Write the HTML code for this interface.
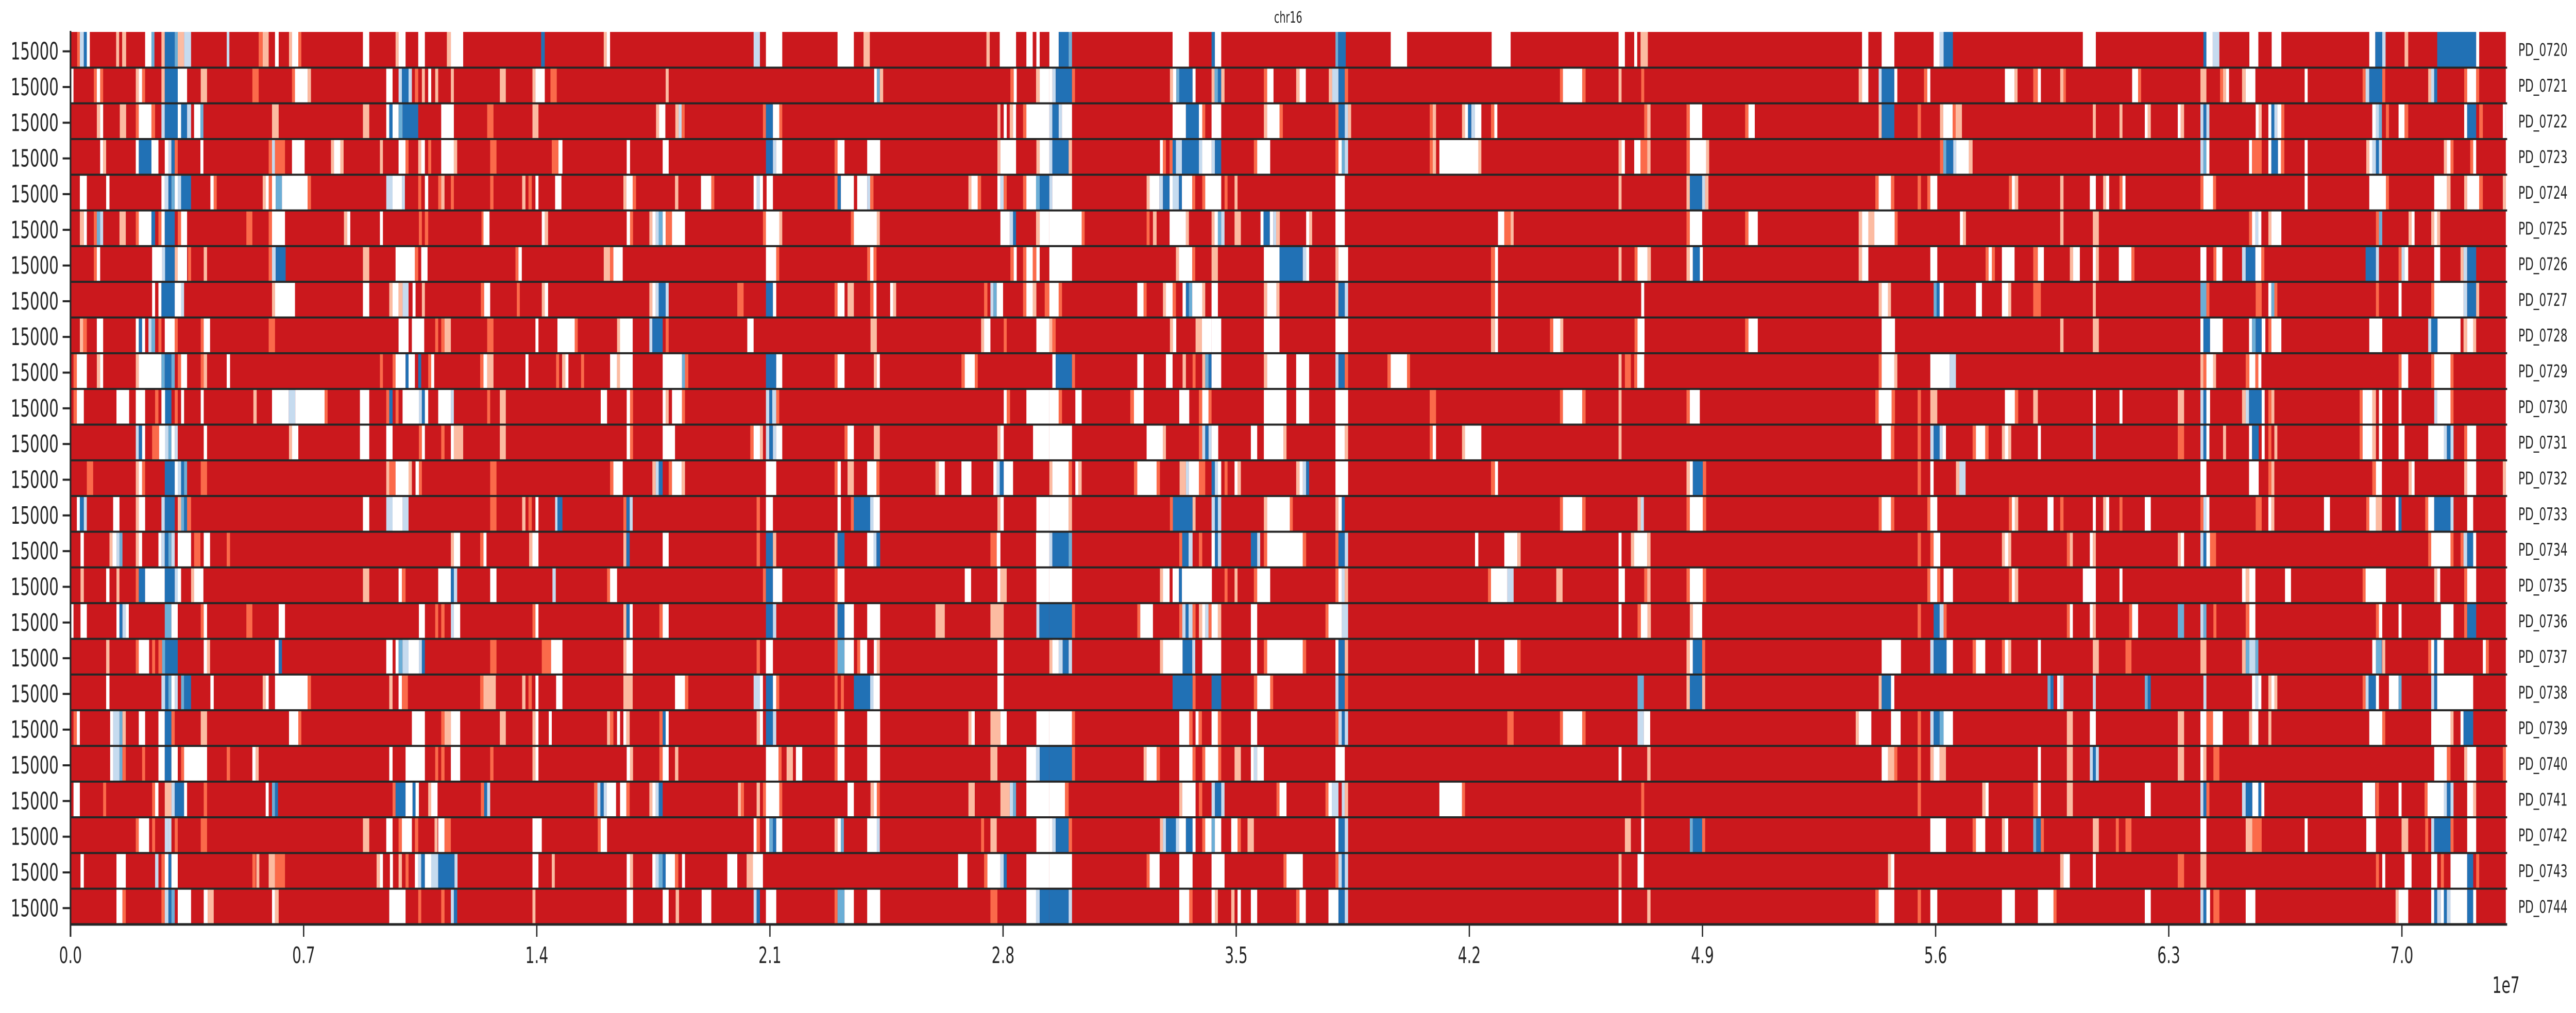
<!DOCTYPE html>
<html><head><meta charset="utf-8"><title>chr16</title>
<style>
html,body{margin:0;padding:0;background:#fff;overflow:hidden;width:100%;height:100%;}
svg{display:block;width:100vw;height:100vh;font-family:"DejaVu Sans","Liberation Sans",sans-serif;}
</style></head>
<body>
<svg id="chart" viewBox="0 0 7855 1967" preserveAspectRatio="none" xmlns="http://www.w3.org/2000/svg">
<text x="3928" y="44" font-size="30" text-anchor="middle" fill="#262626">chr16</text>
<g id="cells"></g>
<g id="grid"></g>
<g id="yaxis"></g>
<g id="xaxis"></g>
<g id="rlabels"></g>
<text x="7600" y="1928" font-size="44" fill="#262626">1e7</text>
</svg>
<script>
const sampleLabels=["PD_0720","PD_0721","PD_0722","PD_0723","PD_0724","PD_0725","PD_0726","PD_0727","PD_0728","PD_0729","PD_0730","PD_0731","PD_0732","PD_0733","PD_0734","PD_0735","PD_0736","PD_0737","PD_0738","PD_0739","PD_0740","PD_0741","PD_0742","PD_0743","PD_0744"];
const yTickLabels=["15000"];
const xTickValues=[0,7,14,21,28,35,42,49,56,63,70];
const xTickLabels=["0.0","0.7","1.4","2.1","2.8","3.5","4.2","4.9","5.6","6.3","7.0"];
const chromLengthMb=73.12;
const segs=[
[[0.2,0.28,"O"],[0.28,0.4,"L"],[0.4,0.49,"B"],[0.49,0.58,"W"],[1.37,1.46,"P"],[1.55,1.67,"P"],[2.24,2.43,"W"],[2.43,2.52,"M"],[2.73,2.83,"P"],[2.83,3.13,"B"],[3.13,3.22,"M"],[3.22,3.41,"P"],[3.41,3.62,"L"],[4.69,4.77,"L"],[5.65,5.77,"O"],[5.77,5.95,"P"],[6.14,6.25,"W"],[6.56,6.65,"P"],[6.65,6.84,"W"],[6.84,6.93,"O"],[8.78,8.97,"W"],[9.76,9.85,"P"],[9.85,10.06,"W"],[10.44,10.64,"W"],[11.3,11.42,"P"],[11.42,11.79,"W"],[14.13,14.24,"B"],[16.01,16.1,"P"],[16.1,16.2,"W"],[20.51,20.7,"L"],[20.88,21.37,"W"],[23.03,23.52,"W"],[23.81,24.0,"P"],[27.5,27.6,"P"],[27.9,28.39,"W"],[28.7,28.89,"W"],[29.0,29.1,"W"],[29.39,29.67,"W"],[29.67,29.97,"B"],[29.97,30.07,"M"],[33.09,33.58,"W"],[34.26,34.36,"B"],[34.36,34.55,"W"],[37.98,38.06,"M"],[38.06,38.29,"B"],[39.64,40.13,"W"],[42.67,43.24,"W"],[46.48,46.67,"W"],[46.95,47.04,"W"],[47.14,47.36,"P"],[53.79,53.98,"W"],[54.38,54.76,"W"],[55.94,56.12,"W"],[56.12,56.24,"L"],[56.24,56.52,"B"],[60.42,60.81,"W"],[64.04,64.13,"B"],[64.13,64.32,"W"],[64.32,64.52,"L"],[65.42,65.69,"W"],[66.09,66.38,"W"],[69.02,69.2,"W"],[69.2,69.41,"B"],[69.41,69.51,"L"],[70.08,70.19,"P"],[71.06,72.23,"B"],[72.23,72.32,"W"]],
[[0,0.09,"W"],[0.7,0.79,"O"],[0.79,0.89,"W"],[0.89,0.98,"O"],[1.96,2.05,"P"],[2.05,2.15,"W"],[2.15,2.24,"O"],[2.73,2.83,"P"],[2.83,3.22,"B"],[3.22,3.5,"W"],[3.91,4.1,"P"],[5.46,5.65,"O"],[6.65,6.74,"O"],[6.74,7.12,"W"],[7.12,7.22,"P"],[9.48,9.67,"W"],[9.85,9.95,"L"],[9.95,10.15,"B"],[10.15,10.25,"L"],[10.34,10.44,"O"],[10.55,10.64,"P"],[10.74,10.83,"W"],[10.95,11.04,"P"],[11.42,11.51,"P"],[12.89,13.07,"P"],[13.87,13.96,"P"],[13.96,14.24,"W"],[14.41,14.6,"O"],[17.87,17.96,"P"],[24.13,24.21,"W"],[24.21,24.3,"M"],[24.3,24.4,"P"],[28.22,28.32,"O"],[28.32,28.41,"W"],[28.99,29.1,"P"],[29.1,29.39,"W"],[29.39,29.48,"W"],[29.48,29.58,"L"],[29.58,30.07,"B"],[30.07,30.16,"O"],[33.01,33.1,"P"],[33.1,33.2,"W"],[33.2,33.29,"M"],[33.29,33.69,"B"],[33.69,33.78,"W"],[34.26,34.35,"P"],[34.35,34.45,"M"],[34.45,34.55,"B"],[34.55,34.65,"P"],[35.83,35.93,"O"],[35.93,36.12,"W"],[36.8,36.9,"P"],[36.9,37.09,"W"],[37.78,37.88,"P"],[37.88,38.07,"L"],[38.07,38.26,"B"],[38.26,38.36,"O"],[44.72,44.81,"O"],[44.81,45.39,"W"],[45.39,45.49,"O"],[46.48,46.57,"P"],[47.16,47.25,"O"],[53.69,53.79,"P"],[53.79,53.98,"W"],[54.29,54.38,"L"],[54.38,54.76,"B"],[54.76,54.85,"W"],[55.65,55.75,"O"],[55.75,55.84,"W"],[58.08,58.37,"W"],[58.37,58.46,"P"],[58.93,59.07,"O"],[59.07,59.16,"W"],[59.74,59.84,"P"],[59.84,59.91,"O"],[61.9,62.08,"W"],[62.08,62.17,"O"],[63.95,64.13,"P"],[64.54,64.63,"O"],[64.63,64.72,"P"],[64.72,64.81,"W"],[65.2,65.31,"P"],[65.31,65.6,"W"],[67.08,67.17,"W"],[68.82,68.91,"O"],[68.91,69.02,"L"],[69.02,69.41,"B"],[69.41,69.5,"O"],[70.79,70.88,"P"],[70.88,70.97,"L"],[70.97,71.06,"B"],[71.87,71.96,"O"],[71.96,72.23,"W"],[72.23,72.32,"O"]],
[[0.79,0.89,"P"],[0.89,0.98,"W"],[1.48,1.67,"P"],[1.96,2.05,"O"],[2.05,2.43,"W"],[2.43,2.54,"O"],[2.73,2.83,"L"],[2.83,3.22,"B"],[3.22,3.32,"W"],[3.32,3.5,"B"],[3.5,3.62,"L"],[3.71,3.9,"W"],[3.9,3.99,"M"],[6.05,6.25,"P"],[8.78,8.97,"P"],[9.48,9.57,"W"],[9.57,9.67,"B"],[9.67,9.85,"W"],[9.85,9.97,"M"],[9.97,10.44,"B"],[11.13,11.51,"W"],[12.51,12.7,"O"],[13.87,14.05,"P"],[17.58,17.67,"P"],[17.67,17.86,"W"],[18.16,18.26,"P"],[18.26,18.35,"L"],[18.35,18.44,"O"],[20.79,20.88,"O"],[20.88,21.09,"B"],[21.09,21.28,"W"],[21.28,21.37,"O"],[27.83,27.92,"P"],[28.02,28.11,"W"],[28.2,28.3,"P"],[28.3,28.39,"W"],[28.6,28.7,"O"],[28.7,29.39,"W"],[29.39,29.48,"L"],[29.48,29.67,"B"],[29.67,29.77,"L"],[29.77,30.07,"W"],[33.09,33.49,"W"],[33.49,33.88,"B"],[33.88,33.98,"W"],[33.98,34.07,"O"],[34.26,34.55,"W"],[35.83,35.93,"P"],[35.93,36.3,"W"],[36.3,36.4,"O"],[37.98,38.07,"O"],[38.07,38.26,"B"],[38.26,38.36,"L"],[38.36,38.45,"P"],[40.81,40.9,"O"],[40.9,41.0,"P"],[41.78,41.87,"P"],[41.87,41.96,"W"],[41.96,42.06,"B"],[42.06,42.17,"L"],[42.17,42.36,"W"],[42.65,42.75,"O"],[42.75,42.84,"W"],[47.25,47.34,"O"],[47.34,47.44,"P"],[48.52,48.62,"O"],[48.62,48.99,"W"],[50.28,50.38,"O"],[50.38,50.57,"W"],[54.29,54.38,"P"],[54.38,54.76,"B"],[55.46,55.56,"O"],[56.13,56.23,"P"],[56.23,56.51,"W"],[56.51,56.6,"O"],[56.6,56.79,"P"],[60.72,60.81,"P"],[61.52,61.61,"P"],[62.28,62.37,"W"],[62.37,62.46,"P"],[63.27,63.36,"W"],[63.36,63.46,"P"],[63.95,64.04,"L"],[64.04,64.13,"B"],[64.13,64.22,"L"],[65.61,65.7,"W"],[65.7,65.79,"P"],[65.99,66.08,"W"],[66.08,66.17,"B"],[66.17,66.26,"L"],[66.26,66.38,"W"],[66.38,66.47,"O"],[69.11,69.22,"W"],[69.22,69.31,"L"],[69.31,69.4,"M"],[69.52,69.61,"O"],[69.9,70.08,"W"],[70.08,70.19,"O"],[71.87,71.96,"W"],[71.96,72.23,"B"],[72.32,72.43,"O"],[73.03,73.12,"W"]],
[[0.89,0.98,"W"],[0.98,1.07,"P"],[1.96,2.05,"W"],[2.05,2.43,"B"],[2.43,2.64,"W"],[2.83,2.94,"W"],[2.94,3.03,"L"],[3.03,3.13,"B"],[3.13,3.22,"O"],[3.9,3.99,"W"],[5.95,6.05,"O"],[6.05,6.14,"L"],[6.14,6.44,"O"],[6.65,7.03,"W"],[7.82,7.91,"P"],[7.91,8.1,"W"],[8.1,8.2,"P"],[9.29,9.38,"P"],[9.85,10.06,"W"],[10.06,10.15,"O"],[10.44,10.53,"P"],[10.53,10.64,"W"],[10.74,10.83,"O"],[11.13,11.51,"W"],[11.51,11.61,"P"],[12.6,12.79,"O"],[14.45,14.65,"O"],[14.65,14.77,"W"],[16.7,16.8,"W"],[17.78,17.96,"W"],[20.88,21.09,"B"],[21.09,21.19,"L"],[21.19,21.37,"W"],[22.94,23.03,"O"],[23.03,23.24,"W"],[23.92,24.31,"W"],[27.83,27.92,"P"],[27.92,28.39,"W"],[29.0,29.1,"P"],[29.1,29.39,"W"],[29.39,29.48,"L"],[29.48,29.97,"B"],[29.97,30.07,"P"],[32.71,32.8,"W"],[32.8,32.89,"O"],[33.0,33.09,"O"],[33.09,33.19,"B"],[33.19,33.37,"L"],[33.37,33.88,"B"],[33.88,33.98,"L"],[33.98,34.26,"W"],[34.26,34.36,"L"],[34.36,34.55,"B"],[35.53,35.63,"O"],[35.63,36.02,"W"],[37.98,38.07,"O"],[38.07,38.17,"W"],[38.17,38.26,"M"],[38.26,38.36,"L"],[40.81,40.9,"O"],[40.9,41.0,"P"],[41.1,42.27,"W"],[42.27,42.36,"P"],[46.48,46.57,"P"],[46.57,46.67,"W"],[46.95,47.14,"W"],[47.14,47.34,"O"],[47.34,47.44,"P"],[48.52,48.62,"O"],[48.62,49.11,"W"],[49.11,49.2,"P"],[56.13,56.23,"O"],[56.23,56.32,"M"],[56.32,56.53,"B"],[56.53,56.62,"L"],[56.62,57.0,"W"],[57.0,57.11,"P"],[63.95,64.04,"L"],[64.04,64.13,"M"],[64.13,64.22,"W"],[65.41,65.5,"W"],[65.5,65.79,"O"],[65.99,66.08,"W"],[66.08,66.28,"B"],[66.28,66.37,"W"],[66.37,66.47,"O"],[67.08,67.17,"W"],[68.93,69.02,"P"],[69.02,69.11,"W"],[69.11,69.22,"L"],[69.22,69.31,"B"],[69.31,69.4,"L"],[71.26,71.35,"P"],[71.35,71.46,"W"],[71.46,71.55,"O"],[72.05,72.14,"O"],[72.14,72.23,"W"]],
[[0.28,0.49,"W"],[1.07,1.17,"W"],[2.73,2.83,"W"],[2.83,2.94,"L"],[2.94,3.03,"B"],[3.03,3.13,"M"],[3.13,3.22,"W"],[3.22,3.32,"L"],[3.32,3.62,"B"],[4.2,4.3,"W"],[4.3,4.39,"O"],[5.77,5.86,"P"],[5.86,5.95,"W"],[5.95,6.05,"O"],[6.05,6.16,"W"],[6.16,6.35,"M"],[6.35,7.12,"W"],[7.12,7.22,"O"],[9.48,9.67,"L"],[9.67,9.95,"W"],[9.95,10.04,"L"],[10.44,10.53,"O"],[10.64,10.74,"W"],[11.04,11.13,"O"],[11.13,11.23,"P"],[11.42,11.51,"O"],[12.6,12.7,"O"],[13.56,13.66,"P"],[13.75,13.85,"O"],[13.96,14.05,"W"],[14.55,14.74,"W"],[14.62,14.73,"W"],[16.6,16.69,"P"],[16.69,16.88,"W"],[16.88,16.98,"O"],[18.15,18.25,"P"],[18.93,19.24,"W"],[19.24,19.33,"O"],[20.51,20.6,"W"],[20.6,20.7,"L"],[20.7,20.79,"W"],[20.9,21.09,"W"],[22.94,23.03,"O"],[23.03,23.13,"B"],[23.13,23.52,"W"],[23.62,23.92,"W"],[23.92,24.01,"L"],[24.01,24.11,"O"],[26.96,27.05,"P"],[27.05,27.24,"W"],[27.24,27.34,"O"],[27.83,27.92,"W"],[27.92,28.02,"L"],[28.02,28.11,"O"],[28.6,28.7,"O"],[28.7,28.99,"W"],[28.99,29.1,"M"],[29.1,29.39,"B"],[29.39,29.48,"L"],[29.48,30.07,"W"],[32.31,32.4,"P"],[32.4,32.69,"W"],[32.69,32.8,"L"],[32.8,33.0,"B"],[33.0,33.09,"W"],[33.09,33.28,"L"],[33.28,33.37,"B"],[33.37,33.68,"W"],[33.68,33.77,"O"],[33.98,34.07,"O"],[34.07,34.55,"W"],[34.65,34.74,"O"],[34.95,35.04,"P"],[37.98,38.26,"W"],[46.48,46.57,"P"],[48.52,48.62,"P"],[48.62,48.99,"B"],[48.99,49.08,"L"],[49.08,49.18,"P"],[54.19,54.29,"O"],[54.29,54.66,"W"],[54.66,54.76,"O"],[55.46,55.56,"O"],[55.75,55.84,"O"],[55.84,56.05,"W"],[58.2,58.29,"O"],[58.29,58.38,"W"],[58.38,58.48,"P"],[59.74,59.84,"P"],[60.63,60.81,"W"],[61.03,61.12,"P"],[61.12,61.21,"W"],[61.52,61.61,"O"],[61.61,61.7,"W"],[63.95,64.04,"O"],[64.04,64.33,"W"],[64.33,64.42,"O"],[67.08,67.17,"W"],[69.02,69.52,"W"],[69.52,69.61,"O"],[70.97,71.35,"W"],[71.35,71.46,"P"],[71.87,71.96,"P"],[71.96,72.32,"W"],[72.32,72.43,"O"],[73.03,73.12,"P"]],
[[0.28,0.4,"P"],[0.4,0.49,"W"],[0.7,0.79,"O"],[0.79,0.89,"M"],[0.89,0.98,"L"],[1.47,1.66,"P"],[1.96,2.05,"O"],[2.05,2.43,"W"],[2.43,2.54,"B"],[2.64,2.73,"O"],[2.73,2.83,"W"],[2.83,3.13,"B"],[3.22,3.32,"O"],[3.32,3.5,"W"],[5.28,5.46,"O"],[5.95,6.05,"O"],[6.05,6.44,"W"],[8.21,8.31,"P"],[8.31,8.4,"W"],[9.29,9.38,"W"],[10.46,10.55,"O"],[10.64,10.74,"O"],[12.34,12.4,"O"],[12.4,12.58,"W"],[14.15,14.24,"W"],[14.24,14.34,"P"],[16.7,16.8,"W"],[16.8,16.89,"O"],[17.38,17.47,"P"],[17.47,17.57,"W"],[17.57,17.66,"L"],[17.66,17.78,"M"],[17.78,17.87,"W"],[17.87,18.06,"O"],[18.06,18.45,"W"],[20.79,20.88,"O"],[20.88,21.28,"W"],[21.28,21.37,"P"],[23.43,23.52,"O"],[23.52,24.21,"W"],[24.21,24.3,"P"],[27.92,28.2,"W"],[28.2,28.3,"L"],[28.3,28.39,"B"],[28.99,29.1,"P"],[29.1,29.39,"W"],[29.39,30.36,"W"],[30.36,30.45,"O"],[32.31,32.4,"O"],[32.5,32.61,"P"],[33.0,33.49,"W"],[33.49,33.58,"P"],[34.26,34.35,"P"],[34.35,34.45,"W"],[34.45,34.55,"M"],[34.55,34.65,"L"],[34.95,35.14,"P"],[35.73,35.82,"W"],[35.82,36.01,"B"],[36.01,36.11,"W"],[36.11,36.2,"L"],[36.2,36.31,"P"],[37.1,37.19,"W"],[37.19,37.28,"P"],[37.98,38.26,"W"],[42.86,43.05,"W"],[43.05,43.24,"O"],[43.24,43.33,"P"],[48.52,48.62,"O"],[48.62,48.99,"W"],[50.28,50.38,"O"],[50.38,50.66,"W"],[53.69,53.79,"P"],[53.79,53.98,"W"],[53.98,54.16,"P"],[54.16,54.77,"W"],[54.77,54.86,"O"],[56.73,56.82,"W"],[56.82,56.91,"P"],[59.74,59.84,"P"],[60.72,60.9,"P"],[65.41,65.5,"O"],[65.5,65.6,"W"],[65.6,65.69,"L"],[65.69,65.78,"W"],[65.99,66.08,"P"],[66.08,66.38,"W"],[69.22,69.31,"O"],[69.31,69.41,"M"],[70.2,70.29,"P"],[70.29,70.38,"W"],[70.88,70.97,"P"],[70.97,71.06,"W"],[71.06,71.15,"P"]],
[[0.7,0.79,"O"],[0.79,0.89,"W"],[2.45,2.75,"W"],[2.75,2.84,"L"],[2.84,3.13,"B"],[3.13,3.22,"P"],[3.22,3.5,"W"],[3.53,3.62,"O"],[4.0,4.1,"P"],[5.95,6.05,"O"],[6.05,6.16,"L"],[6.16,6.46,"B"],[8.78,8.97,"P"],[9.76,10.34,"W"],[10.34,10.44,"O"],[10.53,10.72,"W"],[13.36,13.45,"O"],[13.45,13.55,"W"],[16.01,16.2,"P"],[16.2,16.3,"O"],[16.3,16.58,"W"],[20.88,21.19,"W"],[21.19,21.28,"O"],[23.92,24.01,"O"],[24.01,24.11,"W"],[24.11,24.2,"O"],[28.22,28.32,"O"],[28.32,28.41,"W"],[28.6,28.7,"O"],[28.7,28.89,"W"],[28.89,29.0,"O"],[29.0,29.1,"W"],[29.39,30.07,"W"],[33.19,33.28,"P"],[33.28,33.68,"W"],[33.68,33.77,"O"],[34.26,34.45,"P"],[35.83,36.3,"W"],[36.3,37.0,"B"],[37.0,37.1,"L"],[37.1,37.19,"W"],[37.98,38.07,"P"],[38.07,38.36,"W"],[42.65,42.77,"O"],[42.77,42.86,"W"],[46.48,46.57,"P"],[46.96,47.05,"O"],[47.05,47.35,"W"],[47.35,47.45,"P"],[48.52,48.62,"P"],[48.62,48.71,"W"],[48.71,48.92,"B"],[48.92,49.01,"W"],[53.69,53.79,"P"],[53.79,53.98,"W"],[55.84,56.05,"W"],[57.5,57.59,"O"],[57.59,57.69,"W"],[57.69,57.78,"O"],[57.99,58.37,"W"],[58.93,59.07,"O"],[59.07,59.25,"W"],[60.03,60.13,"P"],[60.13,60.33,"W"],[60.72,60.81,"W"],[60.81,60.9,"P"],[61.5,61.88,"W"],[61.88,61.97,"O"],[63.95,64.13,"W"],[64.34,64.43,"O"],[64.43,64.61,"W"],[65.2,65.31,"L"],[65.31,65.6,"B"],[65.6,65.78,"W"],[65.78,65.87,"O"],[68.91,69.22,"B"],[69.22,69.31,"L"],[69.9,69.99,"O"],[69.99,70.08,"L"],[70.08,70.19,"W"],[70.97,71.15,"W"],[71.76,71.85,"P"],[71.85,71.96,"L"],[71.96,72.23,"B"]],
[[2.45,2.54,"W"],[2.64,2.73,"W"],[2.73,3.13,"B"],[3.13,3.32,"W"],[3.32,3.41,"L"],[6.05,6.14,"P"],[6.14,6.74,"W"],[8.78,8.97,"W"],[9.57,9.67,"P"],[9.67,9.85,"W"],[9.85,9.97,"P"],[9.97,10.15,"L"],[10.27,10.36,"W"],[10.55,10.64,"P"],[12.32,12.42,"O"],[12.42,12.6,"W"],[13.4,13.49,"O"],[14.15,14.24,"P"],[14.24,14.34,"W"],[17.38,17.47,"P"],[17.47,17.57,"W"],[17.57,17.66,"L"],[17.66,17.87,"B"],[17.87,17.96,"L"],[20.02,20.21,"O"],[20.88,21.09,"B"],[21.09,21.19,"W"],[22.94,23.03,"O"],[23.03,23.24,"W"],[23.33,23.52,"P"],[24.01,24.11,"O"],[24.11,24.2,"W"],[24.61,24.7,"W"],[24.7,24.79,"P"],[27.43,27.53,"O"],[27.62,27.71,"L"],[27.71,27.81,"M"],[27.81,28.0,"W"],[28.6,28.7,"O"],[28.7,28.89,"W"],[28.89,29.0,"P"],[29.25,29.39,"O"],[29.39,29.67,"W"],[29.67,29.77,"O"],[32.03,32.22,"W"],[32.22,32.31,"O"],[32.8,32.89,"P"],[32.89,33.09,"W"],[33.09,33.19,"O"],[33.39,33.49,"W"],[33.49,33.58,"B"],[33.58,33.68,"M"],[33.68,33.98,"W"],[33.98,34.07,"P"],[34.26,34.45,"W"],[35.83,35.93,"P"],[35.93,36.21,"W"],[36.21,36.3,"P"],[37.98,38.07,"P"],[38.07,38.26,"B"],[38.26,38.36,"L"],[42.65,42.77,"O"],[42.77,42.86,"W"],[47.16,47.25,"W"],[54.29,54.38,"P"],[54.38,54.57,"W"],[54.57,54.66,"P"],[55.94,56.03,"M"],[56.03,56.12,"B"],[56.12,56.24,"W"],[57.21,57.39,"W"],[57.99,58.18,"W"],[58.18,58.27,"P"],[58.93,59.16,"O"],[60.72,60.81,"P"],[63.95,64.13,"M"],[64.13,64.22,"O"],[65.61,65.79,"O"],[65.99,66.08,"W"],[66.08,66.17,"M"],[66.17,66.26,"O"],[69.22,69.31,"O"],[69.9,69.99,"W"],[70.88,70.97,"O"],[70.97,71.85,"W"],[71.85,71.96,"L"],[71.96,72.23,"B"],[72.23,72.32,"P"]],
[[0.28,0.38,"P"],[0.38,0.49,"O"],[0.79,0.98,"W"],[1.96,2.05,"W"],[2.05,2.15,"B"],[2.15,2.24,"W"],[2.34,2.43,"L"],[2.43,2.54,"M"],[2.64,2.73,"O"],[2.83,3.13,"W"],[3.13,3.22,"O"],[3.91,4.0,"O"],[4.0,4.19,"W"],[5.95,6.14,"O"],[9.85,10.15,"W"],[10.25,10.62,"W"],[10.95,11.04,"O"],[11.13,11.23,"O"],[11.23,11.42,"P"],[12.51,12.7,"O"],[13.96,14.05,"W"],[14.62,15.14,"W"],[15.14,15.23,"O"],[16.41,16.5,"P"],[16.5,16.88,"W"],[17.38,17.47,"L"],[17.47,17.78,"B"],[17.87,17.96,"O"],[20.32,20.51,"W"],[24.02,24.21,"P"],[27.34,27.43,"P"],[27.43,27.62,"W"],[28.02,28.11,"O"],[29.0,29.39,"W"],[29.39,29.48,"P"],[29.48,29.58,"O"],[33.01,33.1,"P"],[33.1,33.2,"W"],[33.78,33.97,"P"],[33.97,34.26,"W"],[34.26,34.55,"W"],[35.83,36.3,"W"],[37.98,38.36,"W"],[42.65,42.77,"P"],[42.77,42.86,"W"],[44.42,44.52,"O"],[44.52,44.73,"W"],[44.73,44.82,"P"],[46.96,47.05,"O"],[47.05,47.26,"W"],[50.28,50.38,"O"],[50.38,50.66,"W"],[54.38,54.78,"W"],[59.74,59.84,"P"],[60.72,60.9,"P"],[63.95,64.04,"W"],[64.04,64.24,"B"],[64.24,64.62,"W"],[65.41,65.5,"W"],[65.5,65.61,"M"],[65.61,65.79,"B"],[65.79,65.9,"W"],[65.99,66.08,"O"],[66.08,66.38,"W"],[69.02,69.41,"W"],[70.79,70.88,"L"],[70.88,71.07,"B"],[71.07,71.76,"W"],[71.85,71.96,"P"],[71.96,72.14,"W"],[72.14,72.23,"P"]],
[[0.09,0.19,"O"],[0.19,0.49,"W"],[0.79,0.89,"P"],[0.89,0.98,"W"],[1.96,2.05,"P"],[2.05,2.73,"W"],[2.73,2.83,"M"],[2.83,3.03,"B"],[3.03,3.13,"M"],[3.22,3.32,"O"],[3.32,3.5,"W"],[3.91,4.0,"O"],[4.0,4.1,"P"],[4.69,4.79,"W"],[9.29,9.38,"O"],[9.67,9.76,"O"],[9.76,10.06,"W"],[10.06,10.15,"B"],[10.15,10.34,"W"],[10.44,10.53,"B"],[10.74,10.83,"O"],[10.83,10.92,"W"],[12.3,12.4,"O"],[12.4,12.51,"W"],[12.51,12.7,"P"],[13.66,13.75,"W"],[14.58,14.67,"O"],[14.76,14.86,"P"],[14.86,14.95,"W"],[15.33,15.42,"O"],[16.2,16.41,"W"],[16.41,16.5,"P"],[16.5,16.88,"W"],[17.78,18.36,"W"],[18.36,18.45,"M"],[18.45,18.55,"O"],[20.88,21.19,"B"],[21.19,21.37,"W"],[22.94,23.03,"O"],[23.03,23.24,"W"],[24.12,24.21,"P"],[24.21,24.3,"W"],[26.75,26.85,"O"],[26.85,27.15,"W"],[27.15,27.24,"O"],[29.48,29.58,"W"],[29.58,30.07,"B"],[30.07,30.16,"O"],[32.03,32.22,"W"],[32.89,33.09,"W"],[33.39,33.49,"P"],[33.69,33.78,"O"],[33.98,34.07,"P"],[34.07,34.17,"M"],[34.17,34.26,"B"],[34.26,34.55,"W"],[35.83,35.93,"P"],[35.93,36.51,"W"],[36.8,37.19,"W"],[37.98,38.07,"L"],[38.07,38.26,"B"],[38.26,38.36,"O"],[39.54,39.64,"O"],[39.64,40.13,"W"],[40.13,40.22,"O"],[46.48,46.57,"P"],[46.67,46.85,"O"],[46.95,47.04,"O"],[47.04,47.25,"W"],[54.29,54.38,"O"],[54.38,54.76,"W"],[54.76,54.85,"P"],[55.84,56.42,"W"],[56.42,56.61,"L"],[63.95,64.04,"P"],[64.04,64.13,"O"],[64.13,64.33,"W"],[64.33,64.42,"P"],[65.31,65.42,"O"],[65.42,65.6,"W"],[65.6,65.69,"O"],[65.69,65.78,"W"],[69.9,69.99,"O"],[69.99,70.19,"W"],[70.88,70.97,"O"],[70.97,71.46,"W"],[71.46,71.55,"O"]],
[[0.09,0.19,"O"],[0.19,0.4,"W"],[1.38,1.76,"W"],[1.96,2.24,"W"],[2.54,2.64,"O"],[2.73,2.84,"W"],[2.84,3.03,"B"],[3.13,3.22,"O"],[3.32,3.41,"W"],[3.91,4.0,"W"],[5.49,5.59,"P"],[6.05,6.55,"W"],[6.55,6.75,"L"],[6.75,7.63,"W"],[7.63,7.72,"O"],[8.69,8.97,"W"],[9.48,9.57,"O"],[9.57,9.67,"B"],[9.76,9.85,"O"],[9.97,10.46,"W"],[10.46,10.55,"L"],[10.55,10.64,"B"],[10.64,10.74,"W"],[11.04,11.42,"W"],[11.42,11.51,"L"],[12.51,12.6,"O"],[12.89,13.07,"P"],[15.92,16.11,"W"],[16.7,16.8,"W"],[16.8,16.89,"O"],[17.78,17.87,"W"],[17.87,17.96,"P"],[18.06,18.36,"W"],[18.36,18.45,"O"],[20.88,20.98,"L"],[20.98,21.07,"B"],[21.07,21.19,"L"],[21.19,21.28,"O"],[28.02,28.11,"W"],[28.11,28.21,"O"],[28.7,29.39,"W"],[29.39,29.67,"W"],[29.67,29.77,"O"],[30.17,30.36,"W"],[31.82,31.93,"O"],[31.93,32.22,"W"],[33.29,33.59,"W"],[33.88,33.98,"O"],[33.98,34.17,"W"],[34.17,34.26,"O"],[35.83,36.51,"W"],[36.8,37.19,"W"],[37.98,38.36,"W"],[40.81,41.0,"O"],[44.72,44.81,"O"],[44.81,45.39,"W"],[45.39,45.49,"O"],[46.48,46.57,"P"],[48.52,48.62,"O"],[48.62,48.92,"W"],[54.19,54.29,"O"],[54.29,54.68,"W"],[54.68,54.78,"O"],[55.46,55.56,"O"],[55.84,56.05,"P"],[58.08,58.38,"W"],[58.38,58.48,"O"],[58.93,59.07,"P"],[60.72,60.81,"W"],[61.52,61.61,"W"],[63.27,63.46,"P"],[63.95,64.04,"L"],[64.04,64.13,"B"],[64.13,64.24,"W"],[65.2,65.31,"P"],[65.31,65.41,"L"],[65.41,65.79,"B"],[65.79,65.88,"W"],[65.99,66.08,"O"],[66.08,66.17,"P"],[68.73,68.82,"O"],[68.82,69.11,"W"],[69.11,69.22,"P"],[69.31,69.41,"W"],[69.9,69.99,"W"],[70.97,71.06,"L"],[71.06,71.46,"W"],[71.46,71.55,"O"]],
[[1.96,2.05,"L"],[2.05,2.15,"B"],[2.15,2.24,"W"],[2.45,2.66,"O"],[2.66,2.84,"W"],[2.84,2.94,"L"],[2.94,3.03,"M"],[3.03,3.13,"W"],[3.13,3.22,"L"],[4.0,4.1,"W"],[6.56,6.65,"P"],[6.65,6.84,"W"],[8.69,8.97,"W"],[9.48,9.67,"W"],[10.46,10.55,"O"],[10.55,10.64,"W"],[11.13,11.23,"O"],[11.42,11.51,"W"],[11.51,11.79,"P"],[12.89,13.07,"P"],[16.7,16.8,"W"],[16.8,16.89,"O"],[17.78,18.15,"W"],[20.41,20.51,"O"],[20.51,20.7,"W"],[20.7,20.79,"P"],[20.88,20.98,"L"],[20.98,21.09,"B"],[21.09,21.19,"L"],[21.19,21.37,"W"],[23.24,23.33,"O"],[23.33,23.52,"W"],[24.12,24.3,"P"],[27.83,27.92,"P"],[27.92,28.02,"W"],[28.9,29.39,"W"],[29.39,30.07,"W"],[32.31,32.8,"W"],[32.8,32.89,"P"],[33.88,33.98,"O"],[33.98,34.07,"L"],[34.07,34.17,"B"],[34.17,34.26,"L"],[34.26,34.46,"W"],[35.44,35.63,"W"],[35.83,36.42,"W"],[36.42,36.51,"P"],[37.98,38.26,"W"],[38.26,38.36,"P"],[40.81,40.9,"O"],[40.9,41.0,"W"],[41.78,41.87,"P"],[41.87,42.36,"W"],[46.48,46.57,"P"],[54.38,54.66,"W"],[54.66,54.76,"O"],[55.46,55.56,"O"],[55.84,55.94,"L"],[55.94,56.12,"B"],[56.12,56.21,"L"],[56.21,56.31,"W"],[57.11,57.21,"O"],[57.21,57.49,"W"],[57.49,57.59,"O"],[57.99,58.08,"P"],[58.08,58.18,"W"],[58.18,58.27,"P"],[59.07,59.16,"W"],[60.72,60.81,"L"],[63.27,63.46,"O"],[63.95,64.04,"L"],[64.04,64.13,"B"],[64.13,64.22,"W"],[64.63,64.72,"P"],[65.41,65.5,"W"],[65.5,65.7,"B"],[65.79,65.88,"W"],[65.99,66.08,"O"],[66.17,66.26,"P"],[68.73,68.82,"O"],[68.82,69.11,"W"],[69.11,69.22,"P"],[69.31,69.41,"W"],[69.9,70.08,"W"],[70.79,71.26,"W"],[71.26,71.35,"L"],[71.35,71.46,"B"],[71.46,71.55,"L"],[71.87,71.96,"O"],[71.96,72.23,"W"]],
[[0.49,0.68,"O"],[1.96,2.05,"P"],[2.05,2.15,"W"],[2.15,2.24,"O"],[2.83,3.13,"B"],[3.13,3.22,"W"],[3.22,3.32,"L"],[3.32,3.41,"B"],[3.41,3.5,"M"],[3.91,4.1,"O"],[9.48,9.57,"P"],[9.57,9.76,"O"],[9.76,10.15,"W"],[10.15,10.25,"P"],[10.36,10.46,"W"],[10.46,10.55,"O"],[12.6,12.79,"O"],[16.2,16.3,"O"],[16.3,16.58,"W"],[17.47,17.57,"P"],[17.57,17.66,"L"],[17.66,17.78,"B"],[17.96,18.06,"O"],[18.06,18.35,"W"],[18.35,18.45,"P"],[20.88,21.19,"W"],[22.94,23.03,"O"],[23.03,23.13,"W"],[23.33,23.52,"P"],[23.92,24.2,"W"],[24.2,24.29,"O"],[25.97,26.07,"P"],[26.07,26.25,"W"],[26.75,27.05,"W"],[27.71,27.81,"W"],[27.81,27.9,"L"],[27.9,28.02,"B"],[28.02,28.3,"W"],[29.39,29.48,"P"],[29.48,29.97,"W"],[29.97,30.07,"O"],[30.17,30.26,"W"],[30.26,30.36,"P"],[31.93,32.03,"O"],[32.03,32.61,"W"],[32.61,32.71,"O"],[33.3,33.49,"P"],[33.49,33.58,"L"],[33.58,33.88,"W"],[33.88,34.07,"O"],[34.26,34.36,"B"],[34.36,34.45,"L"],[34.45,34.55,"W"],[34.65,34.74,"O"],[34.95,35.04,"W"],[35.04,35.14,"P"],[36.8,36.9,"P"],[36.9,37.0,"W"],[37.0,37.1,"L"],[37.1,37.19,"B"],[37.98,38.36,"W"],[42.65,42.77,"O"],[42.77,42.86,"W"],[48.52,48.62,"P"],[48.62,48.71,"W"],[48.71,49.01,"B"],[49.01,49.11,"O"],[55.46,55.56,"O"],[55.84,55.94,"W"],[56.61,56.71,"P"],[56.71,56.9,"L"],[63.95,64.13,"W"],[65.41,65.7,"W"],[65.99,66.08,"O"],[66.08,66.17,"P"],[69.11,69.22,"O"],[69.22,69.4,"W"],[70.2,70.29,"P"],[70.29,70.38,"W"],[71.87,71.96,"P"],[71.96,72.23,"W"],[73.03,73.12,"P"]],
[[0.19,0.28,"W"],[0.28,0.4,"B"],[0.4,0.49,"L"],[1.28,1.47,"W"],[1.96,2.05,"P"],[2.05,2.24,"W"],[2.73,2.83,"L"],[2.83,3.13,"B"],[3.22,3.32,"P"],[3.32,3.41,"M"],[3.41,3.5,"B"],[3.5,3.62,"O"],[8.78,8.97,"W"],[9.48,9.67,"L"],[9.67,9.97,"W"],[9.97,10.15,"L"],[12.6,12.79,"O"],[13.56,13.66,"P"],[13.75,13.85,"O"],[13.96,14.05,"W"],[14.55,14.65,"L"],[14.65,14.77,"B"],[14.62,14.73,"B"],[16.6,16.69,"O"],[16.69,16.79,"B"],[16.79,16.88,"L"],[20.6,20.7,"O"],[20.88,21.09,"W"],[23.03,23.13,"W"],[23.43,23.52,"O"],[23.52,24.01,"B"],[24.01,24.11,"L"],[24.11,24.3,"W"],[27.83,27.92,"P"],[27.92,28.02,"W"],[29.0,29.39,"W"],[29.39,29.97,"W"],[29.97,30.07,"P"],[33.01,33.1,"O"],[33.1,33.69,"B"],[33.69,33.78,"P"],[34.26,34.36,"L"],[34.36,34.45,"B"],[34.45,34.55,"L"],[35.83,35.93,"P"],[35.93,36.61,"W"],[36.61,36.7,"O"],[37.98,38.07,"P"],[38.07,38.17,"W"],[38.17,38.26,"B"],[44.72,44.81,"O"],[44.81,45.39,"W"],[45.39,45.49,"O"],[47.05,47.15,"P"],[47.15,47.24,"L"],[48.52,48.62,"O"],[48.62,49.01,"W"],[49.01,49.11,"O"],[54.29,54.38,"O"],[54.38,54.66,"W"],[54.66,54.76,"O"],[55.75,55.84,"O"],[55.84,56.05,"W"],[58.2,58.29,"O"],[58.29,58.38,"W"],[58.38,58.48,"P"],[59.36,59.54,"W"],[59.74,59.84,"O"],[60.72,60.81,"W"],[61.03,61.12,"P"],[61.12,61.21,"W"],[61.52,61.61,"O"],[62.28,62.46,"W"],[63.95,64.04,"O"],[64.04,64.13,"L"],[64.13,64.22,"W"],[65.61,65.79,"O"],[65.99,66.08,"W"],[66.08,66.17,"P"],[67.66,67.84,"W"],[68.93,69.02,"O"],[69.02,69.22,"W"],[69.22,69.4,"P"],[69.81,69.9,"W"],[69.9,69.99,"B"],[70.7,70.79,"O"],[70.79,70.97,"W"],[70.97,71.46,"B"],[71.46,71.55,"L"],[71.96,72.14,"W"]],
[[0.3,0.4,"W"],[1.17,1.26,"P"],[1.26,1.38,"W"],[1.38,1.47,"L"],[1.47,1.56,"M"],[1.96,2.05,"P"],[2.05,2.15,"W"],[2.64,2.73,"W"],[2.73,2.83,"L"],[2.83,2.94,"B"],[2.94,3.03,"M"],[3.03,3.13,"L"],[3.22,3.62,"W"],[3.71,3.9,"O"],[4.0,4.19,"W"],[4.69,4.79,"O"],[11.42,11.51,"P"],[11.51,11.7,"W"],[12.3,12.4,"O"],[12.4,12.49,"W"],[13.77,13.87,"P"],[13.87,14.05,"W"],[16.6,16.69,"P"],[16.69,16.79,"B"],[17.78,17.96,"W"],[20.6,20.7,"O"],[20.88,21.09,"B"],[21.09,21.19,"P"],[22.94,23.03,"P"],[23.03,23.24,"B"],[23.92,24.11,"W"],[24.11,24.2,"L"],[24.2,24.31,"B"],[27.62,27.81,"O"],[27.81,27.92,"W"],[28.99,29.39,"W"],[29.39,29.48,"L"],[29.48,29.97,"B"],[29.97,30.07,"M"],[33.29,33.38,"O"],[33.38,33.57,"B"],[33.57,33.69,"L"],[33.88,33.98,"O"],[34.26,34.36,"W"],[34.36,34.45,"B"],[34.45,34.55,"L"],[35.44,35.63,"B"],[35.63,35.72,"L"],[35.83,35.93,"O"],[35.93,37.0,"W"],[37.0,37.1,"O"],[37.98,38.07,"O"],[38.07,38.26,"B"],[38.26,38.36,"L"],[42.17,42.27,"W"],[43.05,43.44,"W"],[43.44,43.54,"P"],[46.48,46.57,"W"],[46.85,46.95,"P"],[46.95,47.34,"W"],[47.34,47.44,"P"],[55.46,55.56,"O"],[55.84,55.94,"O"],[55.94,56.14,"W"],[57.99,58.08,"P"],[58.08,58.18,"W"],[58.18,58.27,"P"],[59.94,60.03,"O"],[60.03,60.12,"P"],[60.63,60.72,"W"],[60.72,60.81,"P"],[63.27,63.36,"P"],[63.36,63.46,"W"],[63.95,64.04,"L"],[64.04,64.13,"B"],[64.13,64.24,"W"],[64.24,64.42,"O"],[70.79,70.88,"O"],[70.88,71.46,"W"],[71.46,71.55,"O"],[71.76,71.85,"O"],[71.85,71.96,"L"],[71.96,72.14,"B"],[72.14,72.23,"W"]],
[[0.3,0.4,"P"],[1.07,1.17,"W"],[1.38,1.47,"P"],[1.96,2.05,"O"],[2.05,2.24,"B"],[2.24,2.83,"W"],[2.83,3.13,"B"],[3.13,3.22,"L"],[3.22,3.32,"W"],[3.62,3.71,"P"],[3.71,3.99,"W"],[8.78,8.97,"P"],[9.85,9.95,"W"],[9.95,10.06,"O"],[11.04,11.42,"W"],[11.42,11.51,"B"],[11.51,11.61,"L"],[12.6,12.79,"W"],[14.47,14.57,"L"],[16.11,16.2,"O"],[16.2,16.41,"W"],[20.79,20.88,"O"],[20.88,21.09,"B"],[21.09,21.37,"W"],[22.94,23.03,"O"],[23.03,23.24,"W"],[26.85,27.04,"W"],[27.83,27.92,"W"],[27.92,28.11,"P"],[29.0,29.39,"W"],[29.39,30.07,"W"],[32.71,32.8,"P"],[32.8,33.0,"W"],[33.09,33.28,"W"],[33.28,33.37,"B"],[33.37,34.27,"W"],[34.65,34.74,"O"],[34.95,35.04,"P"],[35.53,35.63,"O"],[35.63,36.02,"W"],[37.98,38.07,"O"],[38.07,38.17,"W"],[38.17,38.26,"L"],[38.26,38.36,"P"],[42.56,42.65,"O"],[42.65,43.14,"W"],[43.14,43.33,"L"],[44.61,44.8,"P"],[46.48,46.67,"W"],[47.25,47.34,"O"],[47.34,47.44,"P"],[48.52,48.62,"O"],[48.62,49.01,"W"],[49.01,49.11,"O"],[55.75,55.84,"O"],[55.84,56.05,"W"],[56.05,56.14,"O"],[56.24,56.52,"W"],[58.2,58.29,"O"],[58.29,58.38,"W"],[58.38,58.48,"P"],[60.42,60.81,"W"],[61.52,61.61,"W"],[65.2,65.31,"W"],[65.31,65.42,"P"],[65.42,65.6,"W"],[66.49,66.67,"W"],[68.82,68.91,"O"],[68.91,69.52,"W"],[70.97,71.06,"P"],[71.06,71.15,"W"],[71.87,71.96,"O"],[71.96,72.23,"W"]],
[[0,0.09,"W"],[0.3,0.49,"W"],[1.38,1.47,"W"],[1.47,1.56,"B"],[1.56,1.66,"L"],[1.66,1.75,"W"],[2.83,3.03,"M"],[3.03,3.22,"W"],[3.91,4.0,"O"],[4.0,4.1,"W"],[5.28,5.46,"O"],[6.25,6.44,"W"],[10.46,10.64,"W"],[10.95,11.04,"O"],[11.13,11.23,"O"],[11.42,11.51,"L"],[11.51,11.7,"W"],[13.87,13.96,"O"],[13.96,14.05,"W"],[16.6,16.69,"P"],[16.69,16.79,"B"],[16.79,16.88,"W"],[17.68,17.78,"O"],[17.78,17.96,"W"],[20.88,21.09,"B"],[21.09,21.19,"L"],[22.94,23.03,"P"],[23.03,23.24,"B"],[23.24,23.52,"W"],[23.92,24.31,"W"],[25.97,26.25,"P"],[27.62,28.02,"P"],[29.0,29.09,"L"],[29.09,29.39,"B"],[29.39,30.07,"B"],[30.07,30.16,"O"],[32.03,32.12,"O"],[32.12,32.5,"W"],[33.29,33.38,"O"],[33.38,33.48,"L"],[33.48,33.57,"B"],[33.57,33.69,"L"],[33.69,33.78,"O"],[33.88,33.98,"P"],[33.98,34.07,"W"],[34.07,34.17,"L"],[34.17,34.26,"O"],[34.26,34.45,"W"],[34.45,34.55,"P"],[35.44,35.63,"W"],[37.68,37.77,"O"],[37.77,38.17,"W"],[38.17,38.36,"L"],[46.48,46.57,"W"],[47.05,47.15,"O"],[47.15,47.35,"W"],[47.35,47.45,"P"],[48.62,48.71,"P"],[48.71,48.99,"W"],[55.46,55.56,"O"],[55.94,56.12,"B"],[56.12,56.24,"L"],[56.24,56.33,"O"],[59.94,60.03,"O"],[60.03,60.12,"W"],[60.63,60.72,"W"],[60.72,60.81,"P"],[61.81,61.9,"O"],[61.9,62.08,"W"],[63.27,63.46,"M"],[63.95,64.04,"L"],[64.04,64.13,"M"],[64.34,64.43,"O"],[65.31,65.42,"O"],[65.42,65.6,"W"],[69.22,69.31,"O"],[69.31,69.41,"W"],[69.9,69.99,"W"],[71.17,71.55,"W"],[71.87,71.96,"O"],[71.96,72.23,"B"]],
[[1.07,1.17,"P"],[1.96,2.05,"O"],[2.05,2.36,"W"],[2.45,2.54,"O"],[2.64,2.75,"O"],[2.75,2.84,"M"],[2.84,3.22,"B"],[4.0,4.1,"W"],[4.1,4.19,"P"],[6.14,6.25,"W"],[6.25,6.35,"B"],[9.48,9.67,"W"],[9.76,9.85,"W"],[9.85,9.97,"M"],[9.97,10.15,"L"],[10.15,10.46,"W"],[10.46,10.55,"L"],[10.55,10.64,"B"],[12.6,12.79,"O"],[14.15,14.43,"O"],[14.43,14.77,"W"],[14.62,14.73,"W"],[16.6,16.69,"P"],[16.69,16.88,"W"],[20.6,20.7,"O"],[20.88,21.09,"W"],[22.94,23.03,"O"],[23.03,23.24,"M"],[23.24,23.52,"W"],[23.62,23.71,"O"],[23.71,23.92,"W"],[24.12,24.21,"W"],[24.21,24.3,"P"],[27.83,28.02,"W"],[29.39,29.48,"P"],[29.48,29.67,"W"],[29.67,29.79,"L"],[29.79,29.97,"B"],[29.97,30.07,"L"],[32.71,32.8,"P"],[32.8,33.39,"W"],[33.39,33.68,"B"],[33.68,33.77,"L"],[33.98,34.55,"W"],[35.44,35.63,"W"],[35.83,35.93,"O"],[35.93,37.0,"W"],[37.0,37.1,"O"],[37.98,38.07,"W"],[38.07,38.26,"B"],[38.26,38.36,"P"],[42.17,42.27,"W"],[43.05,43.44,"W"],[43.44,43.54,"O"],[48.52,48.62,"P"],[48.62,48.71,"W"],[48.71,48.99,"B"],[48.99,49.08,"O"],[54.38,54.96,"W"],[55.84,55.94,"L"],[55.94,56.33,"B"],[56.33,56.52,"W"],[57.11,57.21,"O"],[57.21,57.49,"W"],[57.99,58.08,"O"],[58.08,58.18,"W"],[58.18,58.27,"P"],[59.07,59.16,"W"],[60.72,60.9,"P"],[61.7,61.88,"O"],[63.95,64.13,"P"],[65.2,65.31,"P"],[65.31,65.42,"M"],[65.42,65.6,"L"],[65.6,65.69,"M"],[69.11,69.22,"W"],[69.22,69.4,"M"],[69.41,69.5,"P"],[70.79,70.88,"O"],[70.88,70.97,"W"],[70.97,71.06,"B"],[71.06,71.26,"W"],[72.43,72.52,"W"],[72.52,72.61,"O"]],
[[1.07,1.17,"W"],[2.73,2.84,"L"],[2.84,2.94,"B"],[2.94,3.03,"M"],[3.03,3.13,"W"],[3.13,3.22,"L"],[3.32,3.41,"M"],[3.41,3.62,"B"],[4.2,4.3,"W"],[5.77,5.86,"P"],[5.86,5.95,"W"],[6.14,7.12,"W"],[7.12,7.22,"O"],[9.57,9.67,"P"],[9.85,9.95,"W"],[9.95,10.13,"O"],[12.3,12.4,"O"],[12.4,12.77,"P"],[13.56,13.66,"P"],[13.75,13.85,"O"],[13.96,14.05,"W"],[14.58,14.77,"W"],[14.62,14.73,"W"],[16.6,16.88,"P"],[18.15,18.45,"W"],[18.45,18.55,"O"],[20.51,20.7,"L"],[20.7,20.79,"W"],[20.88,21.09,"B"],[21.09,21.19,"W"],[21.19,21.28,"O"],[22.94,23.03,"O"],[23.13,23.22,"O"],[23.52,24.01,"B"],[24.01,24.11,"L"],[24.11,24.3,"W"],[27.83,28.02,"W"],[33.09,33.69,"B"],[33.69,33.78,"O"],[34.26,34.55,"B"],[35.53,35.63,"O"],[35.63,36.02,"W"],[36.02,36.11,"O"],[37.98,38.07,"L"],[38.07,38.26,"B"],[38.26,38.36,"O"],[47.05,47.24,"M"],[48.52,48.62,"P"],[48.62,48.99,"B"],[48.99,49.08,"P"],[54.29,54.38,"P"],[54.38,54.66,"B"],[54.66,54.76,"W"],[59.36,59.45,"M"],[59.45,59.54,"B"],[59.65,59.74,"W"],[59.74,59.84,"L"],[60.72,60.81,"L"],[62.28,62.37,"M"],[62.37,62.46,"B"],[64.04,64.13,"L"],[65.5,65.6,"W"],[65.6,65.69,"L"],[65.69,65.78,"W"],[65.99,66.08,"P"],[66.08,66.17,"W"],[66.17,66.26,"P"],[68.82,68.91,"O"],[68.91,69.0,"L"],[69.0,69.22,"B"],[69.22,69.31,"W"],[69.61,69.9,"W"],[69.9,69.99,"M"],[70.88,70.97,"L"],[70.97,71.06,"B"],[71.06,72.14,"W"]],
[[0.09,0.19,"O"],[0.19,0.28,"W"],[1.19,1.28,"W"],[1.28,1.47,"L"],[1.47,1.56,"M"],[1.56,1.66,"P"],[2.05,2.24,"W"],[2.64,2.83,"W"],[2.83,3.03,"B"],[3.03,3.13,"O"],[3.91,4.1,"P"],[6.56,6.84,"W"],[6.84,6.93,"O"],[10.25,10.64,"W"],[11.13,11.23,"O"],[11.23,11.42,"P"],[11.42,11.7,"W"],[12.89,13.07,"P"],[13.87,13.96,"P"],[13.96,14.05,"W"],[14.36,14.45,"W"],[16.11,16.2,"P"],[16.2,16.3,"O"],[16.41,16.5,"W"],[16.6,16.69,"W"],[16.69,16.79,"P"],[17.68,17.78,"O"],[17.78,17.87,"B"],[17.87,17.96,"W"],[20.6,20.7,"P"],[20.7,20.79,"W"],[20.88,21.09,"B"],[21.09,21.19,"L"],[22.94,23.03,"O"],[23.03,23.24,"W"],[23.92,24.31,"W"],[26.96,27.05,"P"],[27.05,27.15,"W"],[27.62,27.92,"P"],[27.92,28.11,"W"],[29.0,29.39,"W"],[29.39,30.07,"W"],[30.07,30.16,"O"],[33.29,33.59,"W"],[33.59,33.69,"O"],[33.78,33.87,"W"],[33.87,33.97,"O"],[34.26,34.45,"W"],[34.45,34.55,"O"],[35.44,35.63,"W"],[37.98,38.07,"O"],[38.07,38.17,"L"],[38.17,38.26,"B"],[38.26,38.36,"L"],[43.14,43.33,"O"],[44.72,44.81,"O"],[44.81,45.39,"W"],[45.39,45.49,"O"],[47.05,47.24,"L"],[47.24,47.43,"W"],[53.6,53.69,"P"],[53.69,54.07,"W"],[54.66,54.95,"W"],[55.46,55.56,"O"],[55.84,55.94,"L"],[55.94,56.12,"B"],[56.12,56.24,"M"],[56.24,56.52,"W"],[59.94,60.12,"P"],[60.63,60.81,"W"],[63.27,63.46,"P"],[63.95,64.13,"W"],[64.13,64.33,"O"],[64.33,64.62,"W"],[65.41,65.5,"P"],[65.5,65.69,"W"],[65.99,66.08,"P"],[69.02,69.41,"W"],[69.41,69.5,"O"],[70.88,71.46,"W"],[71.46,71.55,"P"],[71.76,71.85,"W"],[71.85,72.14,"B"]],
[[1.19,1.28,"W"],[1.28,1.47,"L"],[1.47,1.56,"M"],[1.56,1.66,"O"],[2.15,2.24,"O"],[2.64,2.83,"W"],[2.83,3.03,"B"],[3.03,3.22,"W"],[3.32,3.41,"O"],[3.41,4.1,"W"],[4.69,4.79,"O"],[5.46,5.56,"W"],[5.56,5.65,"P"],[9.57,9.67,"W"],[10.06,10.64,"W"],[10.95,11.04,"O"],[11.13,11.23,"O"],[11.42,11.7,"W"],[12.6,12.7,"O"],[13.87,13.96,"P"],[13.96,14.05,"W"],[16.7,16.8,"W"],[16.8,16.89,"P"],[17.68,17.78,"O"],[17.78,17.96,"W"],[18.15,18.25,"P"],[20.88,21.26,"W"],[21.26,21.35,"O"],[21.5,21.69,"P"],[21.78,21.97,"W"],[22.94,23.03,"O"],[23.03,23.24,"W"],[23.92,24.31,"W"],[27.62,27.83,"P"],[28.7,28.99,"W"],[28.99,29.1,"L"],[29.1,29.39,"B"],[29.39,30.07,"B"],[30.07,30.16,"O"],[32.22,32.31,"P"],[32.31,32.61,"W"],[32.61,32.71,"O"],[33.29,33.69,"W"],[33.69,33.78,"O"],[33.98,34.07,"O"],[34.07,34.46,"W"],[34.46,34.55,"O"],[34.95,35.14,"P"],[35.44,35.53,"W"],[35.53,35.63,"L"],[35.63,35.83,"W"],[37.98,38.26,"W"],[46.48,46.57,"W"],[47.34,47.44,"P"],[54.38,54.57,"W"],[54.57,54.76,"P"],[54.76,54.85,"O"],[55.46,55.56,"O"],[55.84,55.94,"P"],[55.94,56.12,"W"],[56.12,56.31,"P"],[59.07,59.16,"W"],[59.94,60.12,"P"],[60.63,60.72,"L"],[60.72,60.81,"B"],[60.81,60.9,"L"],[63.27,63.46,"P"],[63.95,64.04,"W"],[64.04,64.13,"P"],[64.34,64.52,"O"],[70.97,71.35,"W"],[71.35,71.46,"O"],[71.87,71.96,"P"],[71.96,72.23,"W"],[73.03,73.12,"O"]],
[[0.09,0.28,"W"],[0.98,1.07,"O"],[2.45,2.54,"O"],[2.54,2.64,"W"],[2.83,3.03,"P"],[3.03,3.13,"L"],[3.13,3.41,"B"],[3.41,3.5,"W"],[4.0,4.1,"O"],[5.86,5.95,"W"],[6.05,6.14,"M"],[6.14,6.23,"B"],[9.67,9.76,"O"],[9.76,10.06,"B"],[10.06,10.27,"W"],[10.27,10.36,"B"],[10.36,10.46,"W"],[10.74,10.83,"P"],[10.83,11.02,"W"],[12.32,12.42,"O"],[12.42,12.51,"B"],[12.51,12.6,"L"],[15.72,15.82,"O"],[15.82,15.91,"L"],[15.91,16.01,"B"],[16.01,16.1,"L"],[16.1,16.38,"W"],[16.5,16.69,"W"],[16.69,16.79,"O"],[17.38,17.47,"P"],[17.47,17.57,"W"],[17.57,17.66,"L"],[17.66,17.78,"B"],[20.04,20.13,"P"],[20.13,20.22,"O"],[20.6,20.7,"P"],[20.79,20.88,"O"],[20.88,21.28,"W"],[21.28,21.37,"O"],[23.33,23.52,"W"],[24.02,24.12,"P"],[24.12,24.21,"W"],[24.21,24.3,"O"],[26.96,27.15,"P"],[27.92,28.2,"P"],[28.2,28.3,"L"],[28.3,28.39,"M"],[28.7,29.39,"W"],[29.39,29.86,"W"],[29.86,29.97,"O"],[33.29,33.38,"P"],[33.38,33.78,"W"],[33.88,33.98,"O"],[34.26,34.36,"L"],[34.36,34.55,"B"],[34.55,34.65,"L"],[36.21,36.3,"O"],[36.3,36.51,"W"],[37.68,37.77,"O"],[37.77,37.87,"W"],[37.87,38.07,"L"],[38.17,38.26,"L"],[38.26,38.36,"P"],[41.1,41.78,"W"],[41.78,41.87,"O"],[47.16,47.25,"O"],[55.46,55.56,"O"],[57.4,57.5,"P"],[57.5,57.59,"W"],[58.93,59.07,"O"],[59.07,59.16,"W"],[59.94,60.12,"P"],[62.28,62.46,"W"],[63.95,64.04,"L"],[64.04,64.13,"B"],[64.13,64.22,"O"],[65.2,65.31,"L"],[65.31,65.51,"B"],[65.51,65.69,"W"],[65.69,65.78,"B"],[65.78,65.87,"W"],[68.82,69.2,"W"],[69.22,69.31,"O"],[69.9,69.99,"W"],[70.68,70.77,"O"],[70.77,71.26,"W"],[71.26,71.35,"L"],[71.35,71.46,"B"],[71.46,71.55,"L"],[71.96,72.14,"W"],[72.14,72.23,"P"]],
[[1.96,2.05,"O"],[2.05,2.36,"W"],[2.45,2.54,"O"],[2.83,2.94,"L"],[2.94,3.03,"L"],[3.13,3.22,"O"],[3.91,4.1,"O"],[8.78,8.97,"P"],[9.48,9.67,"W"],[9.85,9.95,"O"],[9.95,10.25,"W"],[10.34,10.44,"O"],[10.93,11.02,"P"],[11.04,11.23,"W"],[11.23,11.42,"O"],[13.87,14.15,"W"],[15.83,15.92,"O"],[15.92,16.11,"W"],[20.51,20.6,"W"],[20.6,20.7,"O"],[20.88,20.98,"W"],[20.98,21.09,"M"],[21.09,21.19,"B"],[21.19,21.37,"W"],[22.94,23.03,"P"],[23.03,23.13,"W"],[23.13,23.22,"M"],[23.92,24.21,"W"],[24.21,24.3,"L"],[27.34,27.43,"O"],[27.62,27.81,"P"],[29.0,29.39,"W"],[29.39,29.48,"W"],[29.48,29.58,"L"],[29.58,29.97,"B"],[29.97,30.07,"O"],[32.71,32.8,"P"],[32.8,32.89,"L"],[32.89,33.19,"B"],[33.19,33.28,"L"],[33.28,33.49,"W"],[33.49,33.69,"B"],[33.69,33.78,"W"],[33.98,34.07,"O"],[34.07,34.26,"W"],[34.26,34.36,"M"],[34.36,34.55,"W"],[34.85,35.04,"W"],[35.04,35.14,"O"],[35.34,35.53,"P"],[37.98,38.07,"W"],[38.07,38.26,"B"],[38.26,38.36,"L"],[46.67,46.85,"P"],[47.16,47.25,"W"],[48.62,48.71,"M"],[48.71,48.99,"B"],[48.99,49.08,"O"],[55.84,56.31,"W"],[57.11,57.21,"O"],[57.21,57.49,"W"],[57.99,58.08,"P"],[58.08,58.18,"W"],[58.93,59.02,"M"],[59.02,59.16,"B"],[59.16,59.25,"O"],[60.72,60.9,"P"],[61.41,61.5,"O"],[61.7,61.88,"O"],[63.95,64.13,"W"],[65.31,65.51,"P"],[65.51,65.79,"O"],[67.08,67.17,"W"],[68.93,69.22,"W"],[69.99,70.19,"P"],[70.7,70.79,"O"],[70.88,70.97,"L"],[70.97,71.46,"B"],[71.46,71.55,"O"],[71.96,72.23,"W"]],
[[0.3,0.4,"W"],[1.38,1.66,"W"],[2.54,2.64,"L"],[2.73,2.83,"O"],[2.83,2.94,"W"],[2.94,3.03,"B"],[3.03,3.22,"W"],[5.46,5.56,"O"],[5.58,5.67,"P"],[5.95,6.14,"P"],[6.14,6.44,"O"],[9.19,9.29,"P"],[9.29,9.38,"W"],[9.59,9.68,"W"],[9.85,9.95,"P"],[10.06,10.15,"O"],[10.34,10.44,"W"],[10.44,10.53,"L"],[10.53,10.64,"B"],[10.64,10.83,"W"],[10.83,11.04,"L"],[11.04,11.53,"B"],[11.53,11.62,"L"],[13.87,14.05,"W"],[14.45,14.54,"P"],[16.7,16.8,"W"],[16.8,16.89,"P"],[17.47,17.57,"W"],[17.57,17.66,"L"],[17.66,17.78,"M"],[17.78,17.87,"B"],[17.87,18.15,"W"],[18.15,18.25,"O"],[18.36,18.45,"W"],[19.72,20.02,"W"],[20.3,20.49,"P"],[20.49,20.79,"W"],[26.65,26.93,"W"],[27.43,27.53,"O"],[27.53,27.92,"W"],[27.92,28.02,"L"],[28.02,28.11,"B"],[28.7,29.39,"W"],[29.39,30.07,"W"],[32.31,32.4,"O"],[32.4,32.7,"W"],[33.29,33.69,"W"],[34.26,34.65,"W"],[36.42,36.51,"O"],[36.51,37.0,"W"],[37.98,38.07,"O"],[38.07,38.17,"L"],[38.17,38.26,"B"],[38.26,38.36,"L"],[46.48,46.57,"P"],[47.05,47.24,"W"],[54.57,54.66,"P"],[54.66,54.76,"W"],[59.74,59.84,"P"],[59.84,60.03,"W"],[60.72,60.81,"W"],[63.27,63.46,"O"],[63.95,64.13,"P"],[69.22,69.31,"O"],[69.41,69.5,"W"],[70.08,70.29,"W"],[70.88,71.06,"W"],[71.17,71.26,"O"],[71.46,71.96,"W"],[71.96,72.14,"B"],[72.23,72.32,"O"]],
[[1.38,1.56,"W"],[1.56,1.66,"O"],[2.73,2.83,"O"],[2.83,2.94,"L"],[2.94,3.03,"B"],[3.03,3.13,"M"],[3.22,3.62,"W"],[4.0,4.12,"W"],[4.12,4.3,"P"],[6.05,6.14,"W"],[6.14,6.25,"P"],[9.57,10.06,"W"],[10.44,10.53,"O"],[11.13,11.23,"O"],[11.42,11.51,"L"],[11.51,11.61,"B"],[13.87,13.96,"P"],[16.7,16.89,"W"],[17.78,17.96,"W"],[18.17,18.27,"P"],[18.95,19.24,"W"],[20.51,20.6,"L"],[20.6,20.7,"B"],[20.88,21.19,"W"],[22.94,23.03,"O"],[23.03,23.24,"M"],[23.24,23.52,"W"],[23.92,24.31,"W"],[27.62,27.83,"O"],[28.7,28.99,"W"],[28.99,29.1,"L"],[29.1,29.39,"B"],[29.39,29.97,"B"],[29.97,30.07,"L"],[33.29,33.59,"W"],[33.59,33.69,"O"],[34.26,34.36,"W"],[34.36,34.45,"P"],[34.85,34.95,"P"],[35.04,35.14,"W"],[35.44,35.63,"W"],[36.8,36.9,"O"],[36.9,37.09,"W"],[37.77,38.07,"W"],[38.07,38.26,"B"],[38.26,38.36,"L"],[46.48,46.57,"W"],[47.34,47.44,"P"],[54.19,54.29,"O"],[54.29,54.76,"W"],[55.46,55.56,"O"],[55.84,56.05,"W"],[57.99,58.38,"W"],[59.07,59.54,"W"],[59.54,59.63,"O"],[62.28,62.46,"W"],[63.95,64.04,"L"],[64.04,64.13,"B"],[64.13,64.24,"W"],[64.34,64.52,"O"],[65.31,65.6,"W"],[69.81,69.9,"P"],[69.9,70.19,"W"],[70.88,70.97,"W"],[70.97,71.06,"B"],[71.06,71.17,"L"],[71.17,71.26,"W"],[71.26,71.35,"B"],[71.35,71.46,"L"],[71.46,71.96,"W"],[71.96,72.14,"B"],[72.14,72.23,"W"]]
];
const colorMap={W:"#ffffff",P:"#fcbba1",O:"#fb6a4a",L:"#c6dbef",M:"#6baed6",B:"#2171b5"};
const NS="http://www.w3.org/2000/svg";
const plotLeft=215, plotRight=7641, plotTop=62, plotBottom=1795;
const rowH=(plotBottom-plotTop)/sampleLabels.length;
function xScale(mb){return plotLeft+mb/chromLengthMb*(plotRight-plotLeft);}
function rowY(i){return plotTop+i*rowH;}
function mk(tag,attrs){const e=document.createElementNS(NS,tag);for(const k in attrs)e.setAttribute(k,attrs[k]);return e;}
const cells=document.getElementById('cells');
const grid=document.getElementById('grid');
const yaxis=document.getElementById('yaxis');
const xaxis=document.getElementById('xaxis');
const rlabels=document.getElementById('rlabels');
sampleLabels.forEach((lab,i)=>{
  const y0=rowY(i);
  const bg=mk('rect',{x:plotLeft,y:y0,width:plotRight-plotLeft,height:rowH,fill:'#cb181d'});
  
  
  cells.appendChild(bg);
  (segs[i]||[]).forEach(s=>{
    const x0=xScale(s[0]),x1=xScale(s[1]);
    const r=mk('rect',{x:x0,y:y0,width:Math.max(1,x1-x0),height:rowH,fill:colorMap[s[2]]});
    
    
    cells.appendChild(r);
  });
  if(i>0){
    const ln=mk('line',{x1:plotLeft,x2:plotRight+4,y1:y0,y2:y0,stroke:'#262626','stroke-width':4});
    
    
    grid.appendChild(ln);
  }
  const cy=y0+rowH/2;
  const tk=mk('line',{x1:plotLeft-24,x2:plotLeft,y1:cy+3,y2:cy+3,stroke:'#262626','stroke-width':4});
  
  
  yaxis.appendChild(tk);
  const tl=mk('text',{x:plotLeft-36,y:cy+19,'font-size':46,'text-anchor':'end',fill:'#262626'});
  tl.textContent=yTickLabels[0];
  
  
  yaxis.appendChild(tl);
  const rl=mk('text',{x:7679,y:cy+12,'font-size':34,fill:'#262626'});
  rl.textContent=lab;
  
  
  rlabels.appendChild(rl);
});
const spineL=mk('line',{x1:plotLeft,x2:plotLeft,y1:plotTop-2,y2:plotBottom+24,stroke:'#262626','stroke-width':5});


yaxis.appendChild(spineL);
const spineB=mk('line',{x1:plotLeft,x2:plotRight+4,y1:plotBottom,y2:plotBottom,stroke:'#262626','stroke-width':5});


xaxis.appendChild(spineB);
xTickValues.forEach((v,i)=>{
  const x=xScale(v);
  const t=mk('line',{x1:x,x2:x,y1:plotBottom,y2:plotBottom+24,stroke:'#262626','stroke-width':4});
  
  
  xaxis.appendChild(t);
  const l=mk('text',{x:x,y:plotBottom+75,'font-size':44,'text-anchor':'middle',fill:'#262626'});
  l.textContent=xTickLabels[i];
  
  
  xaxis.appendChild(l);
});
</script>
</body></html>
